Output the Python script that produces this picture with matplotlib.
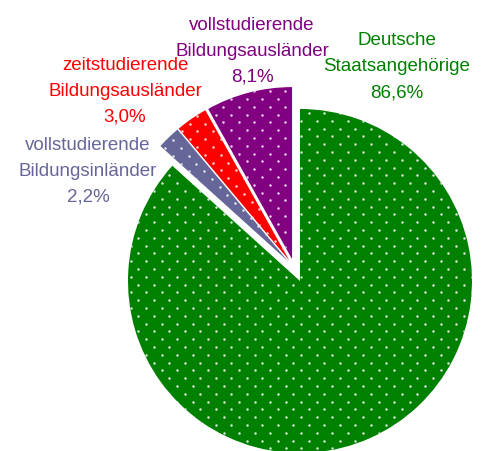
import matplotlib
matplotlib.use("Agg")
import matplotlib.pyplot as plt
from matplotlib import font_manager
import numpy as np

# data
labels = ["Deutsche\nStaatsangehörige", "vollstudierende\nBildungsinländer",
          "zeitstudierende\nBildungsausländer", "vollstudierende\nBildungsausländer"]
shares = [86.6, 2.2, 3.0, 8.1]
share_text = ["86,6%", "2,2%", "3,0%", "8,1%"]
colors = ["#008000", "#666699", "#FF0000", "#800080"]

names = {f.name for f in font_manager.fontManager.ttflist}
fam = "Liberation Sans Narrow" if "Liberation Sans Narrow" in names else "Liberation Sans"
plt.rcParams["font.family"] = [fam, "DejaVu Sans"]

W, H = 485, 451
cx, cy, R = 300, 281, 172  # pixel layout of the pie

fig = plt.figure(figsize=(W / 100, H / 100), dpi=100)
ax = fig.add_axes([0, 0, 1, 1])

wedges, _ = ax.pie(shares, colors=colors, startangle=90, counterclock=False,
                   explode=[0, 0.052, 0.052, 0.052],
                   wedgeprops=dict(linewidth=0))
# small slices pulled out together
shift = np.array([-0.033, 0.077])
for w in wedges[1:]:
    w.set_center(tuple(np.array(w.center) + shift))

ax.set_aspect("auto")
ax.set_xlim(-cx / R, (W - cx) / R)
ax.set_ylim(-(H - cy) / R, cy / R)
ax.axis("off")

# dotted fill texture
dx, dy = 15.5 / R, 7.8 / R
ys = np.arange(-1.2, 1.4, dy)
pts = []
for i, yy in enumerate(ys):
    xs = np.arange(-1.3, 1.3, dx) + (dx / 2 if i % 2 else 0)
    pts += [(xx, yy) for xx in xs]
pts = np.array(pts)
for w in wedges:
    off = np.array(w.center)
    sc = ax.scatter(pts[:, 0] + off[0], pts[:, 1] + off[1], s=3.2, c="white",
                    alpha=0.85, linewidths=0, zorder=3)
    sc.set_clip_path(w)

# labels: centre x and baseline of last line (pixels)
label_pos = [(397, 97), (88, 202), (125, 122), (252, 82)]
for lab, pct, col, (px, py) in zip(labels, share_text, colors, label_pos):
    ax.text((px - cx) / R, (cy - py) / R, lab + "\n" + pct, color=col,
            ha="center", va="baseline", fontsize=13.5, linespacing=1.7)

fig.savefig("out.png", dpi=100)
